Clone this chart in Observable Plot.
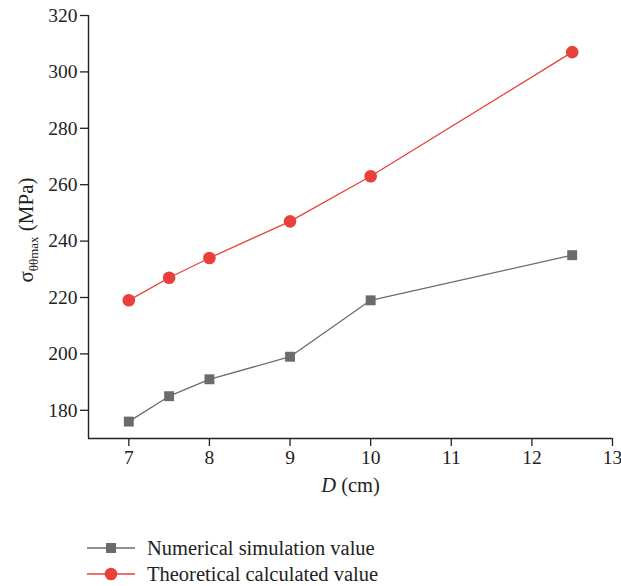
<!DOCTYPE html>
<html>
<head>
<meta charset="utf-8">
<script src="https://cdn.jsdelivr.net/npm/d3@7"></script>
<script src="https://cdn.jsdelivr.net/npm/@observablehq/plot@0.6"></script>
<style>
  html, body { margin: 0; padding: 0; background: #fff; }
  #chart { width: 621px; }
  #chart svg text { font-family: "Liberation Serif", "DejaVu Serif", serif; }
  .legend { font-family: "Liberation Serif", "DejaVu Serif", serif; font-size: 20.5px; color: #222; padding-top: 25px; }
  .legend .row { display: flex; align-items: center; height: 26px; }
  .legend svg { margin-left: 86px; margin-right: 11px; }
</style>
</head>
<body>
<div id="chart"></div>
<script>
const dValues = [7, 7.5, 8, 9, 10, 12.5];
const numerical = [176, 185, 191, 199, 219, 235];
const theoretical = [219, 227, 234, 247, 263, 307];
const seriesNames = ["Numerical simulation value", "Theoretical calculated value"];
const xTicks = [7, 8, 9, 10, 11, 12, 13];
const yTicks = [180, 200, 220, 240, 260, 280, 300, 320];

const grayColor = "#6b6b6b";
const redColor = "#e8403b";

const numData = dValues.map((d, i) => ({D: d, v: numerical[i]}));
const theoData = dValues.map((d, i) => ({D: d, v: theoretical[i]}));

const plot = Plot.plot({
  width: 621,
  height: 510,
  marginLeft: 88,
  marginRight: 9,
  marginTop: 15,
  marginBottom: 72,
  style: {fontFamily: "Liberation Serif, DejaVu Serif, serif", fontSize: "19.5px", color: "#222", background: "#fff"},
  x: {domain: [6.5, 13], label: null},
  y: {domain: [170, 320], label: null},
  marks: [
    Plot.axisX({ticks: xTicks, tickFormat: d3.format("d"), tickSize: 8, tickPadding: 4, label: null, stroke: "#222", strokeWidth: 1.3, fill: "#222"}),
    Plot.axisY({ticks: yTicks, tickFormat: d3.format("d"), tickSize: 8, tickPadding: 3, label: null, stroke: "#222", strokeWidth: 1.3, fill: "#222"}),
    Plot.ruleY([170], {stroke: "#222", strokeWidth: 1.4}),
    Plot.ruleX([6.5], {stroke: "#222", strokeWidth: 1.4}),
    Plot.line(numData, {x: "D", y: "v", stroke: grayColor, strokeWidth: 1.3}),
    Plot.dot(numData, {x: "D", y: "v", symbol: "square", r: 5.6, fill: grayColor, stroke: "none"}),
    Plot.line(theoData, {x: "D", y: "v", stroke: redColor, strokeWidth: 1.3}),
    Plot.dot(theoData, {x: "D", y: "v", symbol: "circle", r: 6.3, fill: redColor, stroke: "none"}),
    Plot.text(["D (cm)"], {frameAnchor: "bottom", textAnchor: "middle", dy: 53, fontSize: 20.5, fill: "#222", className: "xlabel"}),
    Plot.text(["σθθmax (MPa)"], {frameAnchor: "left", textAnchor: "middle", dx: -62, dy: 3, rotate: -90, fontSize: 21, fill: "#222", className: "ylabel"})
  ]
});

// rich text for axis labels
const svg = d3.select(plot);
svg.selectAll(".xlabel text").each(function() {
  const t = d3.select(this);
  t.text(null);
  t.append("tspan").attr("font-style", "italic").text("D");
  t.append("tspan").text(" (cm)");
});
svg.selectAll(".ylabel text").each(function() {
  const t = d3.select(this);
  t.text(null);
  t.append("tspan").text("σ");
  t.append("tspan").attr("font-size", 13).attr("dy", 5).text("θθmax");
  t.append("tspan").attr("dy", -5).text(" (MPa)");
});

document.getElementById("chart").appendChild(plot);

// legend
const legend = d3.select("#chart").append("div").attr("class", "legend");
const legendSpecs = [
  {name: seriesNames[0], color: grayColor, symbol: "square"},
  {name: seriesNames[1], color: redColor, symbol: "circle"}
];
legendSpecs.forEach(s => {
  const row = legend.append("div").attr("class", "row");
  const sw = row.append("svg").attr("width", 50).attr("height", 20);
  sw.append("line").attr("x1", 1).attr("x2", 49).attr("y1", 10).attr("y2", 10)
    .attr("stroke", s.color).attr("stroke-width", 1.3);
  if (s.symbol === "square") {
    sw.append("rect").attr("x", 20).attr("y", 5).attr("width", 10).attr("height", 10).attr("fill", s.color);
  } else {
    sw.append("circle").attr("cx", 25).attr("cy", 10).attr("r", 6.3).attr("fill", s.color);
  }
  row.append("span").text(s.name);
});
</script>
</body>
</html>
